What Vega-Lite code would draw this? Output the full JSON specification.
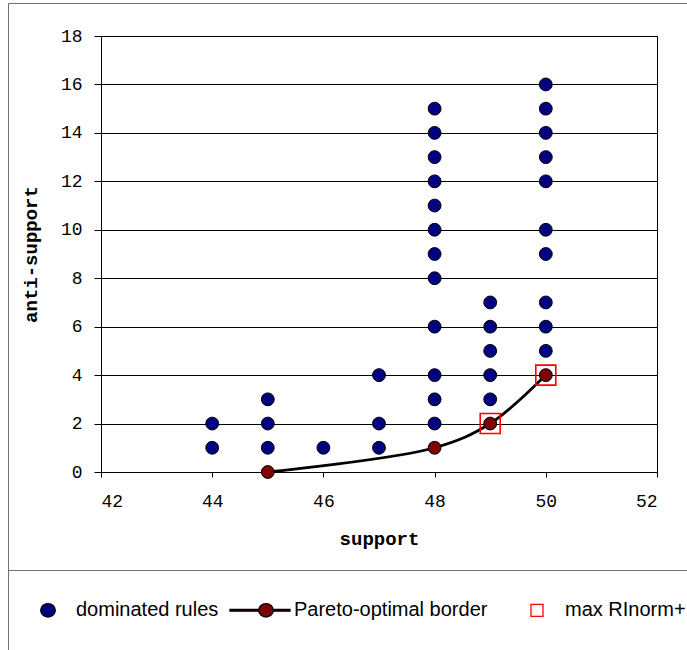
{
  "$schema": "https://vega.github.io/schema/vega-lite/v6.json",
  "width": 556,
  "height": 436,
  "autosize": {"type": "none"},
  "padding": {"left": 101, "top": 36, "right": 30, "bottom": 178},
  "background": "white",
  "config": {
    "view": {"stroke": "#000000", "strokeWidth": 1},
    "font": "Liberation Sans"
  },
  "data": {
    "values": [
      {"support": 44, "anti_support": 1, "series": "dominated rules"},
      {"support": 44, "anti_support": 2, "series": "dominated rules"},
      {"support": 45, "anti_support": 1, "series": "dominated rules"},
      {"support": 45, "anti_support": 2, "series": "dominated rules"},
      {"support": 45, "anti_support": 3, "series": "dominated rules"},
      {"support": 46, "anti_support": 1, "series": "dominated rules"},
      {"support": 47, "anti_support": 1, "series": "dominated rules"},
      {"support": 47, "anti_support": 2, "series": "dominated rules"},
      {"support": 47, "anti_support": 4, "series": "dominated rules"},
      {"support": 48, "anti_support": 2, "series": "dominated rules"},
      {"support": 48, "anti_support": 3, "series": "dominated rules"},
      {"support": 48, "anti_support": 4, "series": "dominated rules"},
      {"support": 48, "anti_support": 6, "series": "dominated rules"},
      {"support": 48, "anti_support": 8, "series": "dominated rules"},
      {"support": 48, "anti_support": 9, "series": "dominated rules"},
      {"support": 48, "anti_support": 10, "series": "dominated rules"},
      {"support": 48, "anti_support": 11, "series": "dominated rules"},
      {"support": 48, "anti_support": 12, "series": "dominated rules"},
      {"support": 48, "anti_support": 13, "series": "dominated rules"},
      {"support": 48, "anti_support": 14, "series": "dominated rules"},
      {"support": 48, "anti_support": 15, "series": "dominated rules"},
      {"support": 49, "anti_support": 3, "series": "dominated rules"},
      {"support": 49, "anti_support": 4, "series": "dominated rules"},
      {"support": 49, "anti_support": 5, "series": "dominated rules"},
      {"support": 49, "anti_support": 6, "series": "dominated rules"},
      {"support": 49, "anti_support": 7, "series": "dominated rules"},
      {"support": 50, "anti_support": 5, "series": "dominated rules"},
      {"support": 50, "anti_support": 6, "series": "dominated rules"},
      {"support": 50, "anti_support": 7, "series": "dominated rules"},
      {"support": 50, "anti_support": 9, "series": "dominated rules"},
      {"support": 50, "anti_support": 10, "series": "dominated rules"},
      {"support": 50, "anti_support": 12, "series": "dominated rules"},
      {"support": 50, "anti_support": 13, "series": "dominated rules"},
      {"support": 50, "anti_support": 14, "series": "dominated rules"},
      {"support": 50, "anti_support": 15, "series": "dominated rules"},
      {"support": 50, "anti_support": 16, "series": "dominated rules"},
      {"support": 45, "anti_support": 0, "series": "Pareto-optimal border"},
      {"support": 48, "anti_support": 1, "series": "Pareto-optimal border"},
      {"support": 49, "anti_support": 2, "series": "Pareto-optimal border"},
      {"support": 50, "anti_support": 4, "series": "Pareto-optimal border"},
      {"support": 49, "anti_support": 2, "series": "max RInorm+"},
      {"support": 50, "anti_support": 4, "series": "max RInorm+"}
    ]
  },
  "encoding": {
    "x": {
      "field": "support",
      "type": "quantitative",
      "scale": {"domain": [42, 52], "nice": false, "zero": false},
      "axis": {
        "title": "support",
        "values": [42, 44, 46, 48, 50, 52],
        "grid": false,
        "tickSize": 5,
        "tickColor": "#000000",
        "domainColor": "#000000",
        "labelFont": "Liberation Mono",
        "labelFontSize": 18,
        "labelColor": "#000000",
        "labelPadding": 15,
        "titleFont": "Liberation Mono",
        "titleFontSize": 19,
        "titleFontWeight": "bold",
        "titleColor": "#000000",
        "titlePadding": 19
      }
    },
    "y": {
      "field": "anti_support",
      "type": "quantitative",
      "scale": {"domain": [0, 18], "nice": false, "zero": true},
      "axis": {
        "title": "anti-support",
        "values": [0, 2, 4, 6, 8, 10, 12, 14, 16, 18],
        "grid": true,
        "gridColor": "#000000",
        "gridOpacity": 1,
        "gridWidth": 1,
        "tickSize": 7,
        "tickColor": "#000000",
        "domainColor": "#000000",
        "labelFont": "Liberation Mono",
        "labelFontSize": 18,
        "labelColor": "#000000",
        "labelPadding": 12,
        "titleFont": "Liberation Mono",
        "titleFontSize": 19,
        "titleFontWeight": "bold",
        "titleColor": "#000000",
        "titlePadding": 20
      }
    }
  },
  "layer": [
    {
      "transform": [{"filter": "datum.series === 'Pareto-optimal border'"}],
      "mark": {"type": "line", "interpolate": "catmull-rom", "color": "#000000", "strokeWidth": 2.8},
      "encoding": {}
    },
    {
      "transform": [{"filter": "datum.series !== 'max RInorm+'"}],
      "mark": {"type": "point", "shape": "circle", "filled": true, "size": 165, "strokeWidth": 1, "opacity": 1},
      "encoding": {
        "fill": {
          "field": "series",
          "type": "nominal",
          "scale": {
            "domain": ["dominated rules", "Pareto-optimal border", "max RInorm+"],
            "range": ["#000080", "#800000", "transparent"]
          }
        },
        "stroke": {
          "field": "series",
          "type": "nominal",
          "scale": {
            "domain": ["dominated rules", "Pareto-optimal border", "max RInorm+"],
            "range": ["#000000", "#000000", "#ff0000"]
          }
        }
      }
    },
    {
      "transform": [{"filter": "datum.series === 'max RInorm+'"}],
      "mark": {"type": "point", "shape": "square", "filled": false, "size": 400, "strokeWidth": 1.6, "opacity": 1},
      "encoding": {
        "stroke": {
          "field": "series",
          "type": "nominal",
          "scale": {
            "domain": ["dominated rules", "Pareto-optimal border", "max RInorm+"],
            "range": ["#000000", "#000000", "#ff0000"]
          }
        }
      }
    },
    {
      "mark": {"type": "point", "filled": true, "size": 4, "opacity": 0},
      "encoding": {
        "strokeDash": {
          "field": "support",
          "type": "ordinal",
          "scale": {"range": [[1, 0]]},
          "legend": {
            "title": null,
            "orient": "none",
            "legendX": -93,
            "legendY": -33,
            "direction": "horizontal",
            "strokeColor": "#707070",
            "padding": 319,
            "symbolSize": 100,
            "symbolOpacity": 0,
            "symbolStrokeWidth": 0,
            "labelOpacity": 0,
            "labelFontSize": 10
          }
        },
        "fill": {
          "field": "series",
          "type": "nominal",
          "scale": {
            "domain": ["dominated rules", "Pareto-optimal border", "max RInorm+"],
            "range": ["#000080", "#800000", "transparent"]
          },
          "legend": {
            "title": null,
            "orient": "none",
            "legendX": -93,
            "legendY": 534,
            "direction": "horizontal",
            "strokeColor": "#707070",
            "padding": 12,
            "symbolSize": 2916,
            "symbolOpacity": 1,
            "symbolStrokeWidth": 1.3,
            "labelFont": "Liberation Sans",
            "labelFontSize": 20,
            "labelColor": "#000000",
            "labelOffset": 0,
            "labelLimit": 400,
            "columnPadding": 8
          }
        },
        "stroke": {
          "field": "series",
          "type": "nominal",
          "scale": {
            "domain": ["dominated rules", "Pareto-optimal border", "max RInorm+"],
            "range": ["#000000", "#000000", "#ff0000"]
          },
          "legend": {
            "title": null,
            "orient": "none",
            "legendX": -93,
            "legendY": 534,
            "direction": "horizontal",
            "strokeColor": "#707070",
            "padding": 12,
            "symbolSize": 2916,
            "symbolOpacity": 1,
            "symbolStrokeWidth": 1.3,
            "labelFont": "Liberation Sans",
            "labelFontSize": 20,
            "labelColor": "#000000",
            "labelOffset": 0,
            "labelLimit": 400,
            "columnPadding": 8
          }
        },
        "shape": {
          "field": "series",
          "type": "nominal",
          "scale": {
            "domain": ["dominated rules", "Pareto-optimal border", "max RInorm+"],
            "range": [
              "M0,1.25ZM0.27,0A0.27,0.25,0,1,1,-0.27,0A0.27,0.25,0,1,1,0.27,0Z",
              "M0,1.25ZM-1.333,-0.03H-0.27V0.03H-1.333ZM0.27,-0.03H0.89V0.03H0.27ZM0.27,0A0.27,0.25,0,1,1,-0.27,0A0.27,0.25,0,1,1,0.27,0Z",
              "M0,1.25ZM-1.41,0ZM-0.222,-0.222H0.222V0.222H-0.222Z"
            ]
          },
          "legend": {
            "title": null,
            "orient": "none",
            "legendX": -93,
            "legendY": 534,
            "direction": "horizontal",
            "strokeColor": "#707070",
            "padding": 12,
            "symbolSize": 2916,
            "symbolOpacity": 1,
            "symbolStrokeWidth": 1.3,
            "labelFont": "Liberation Sans",
            "labelFontSize": 20,
            "labelColor": "#000000",
            "labelOffset": 0,
            "labelLimit": 400,
            "columnPadding": 8
          }
        }
      }
    }
  ]
}
